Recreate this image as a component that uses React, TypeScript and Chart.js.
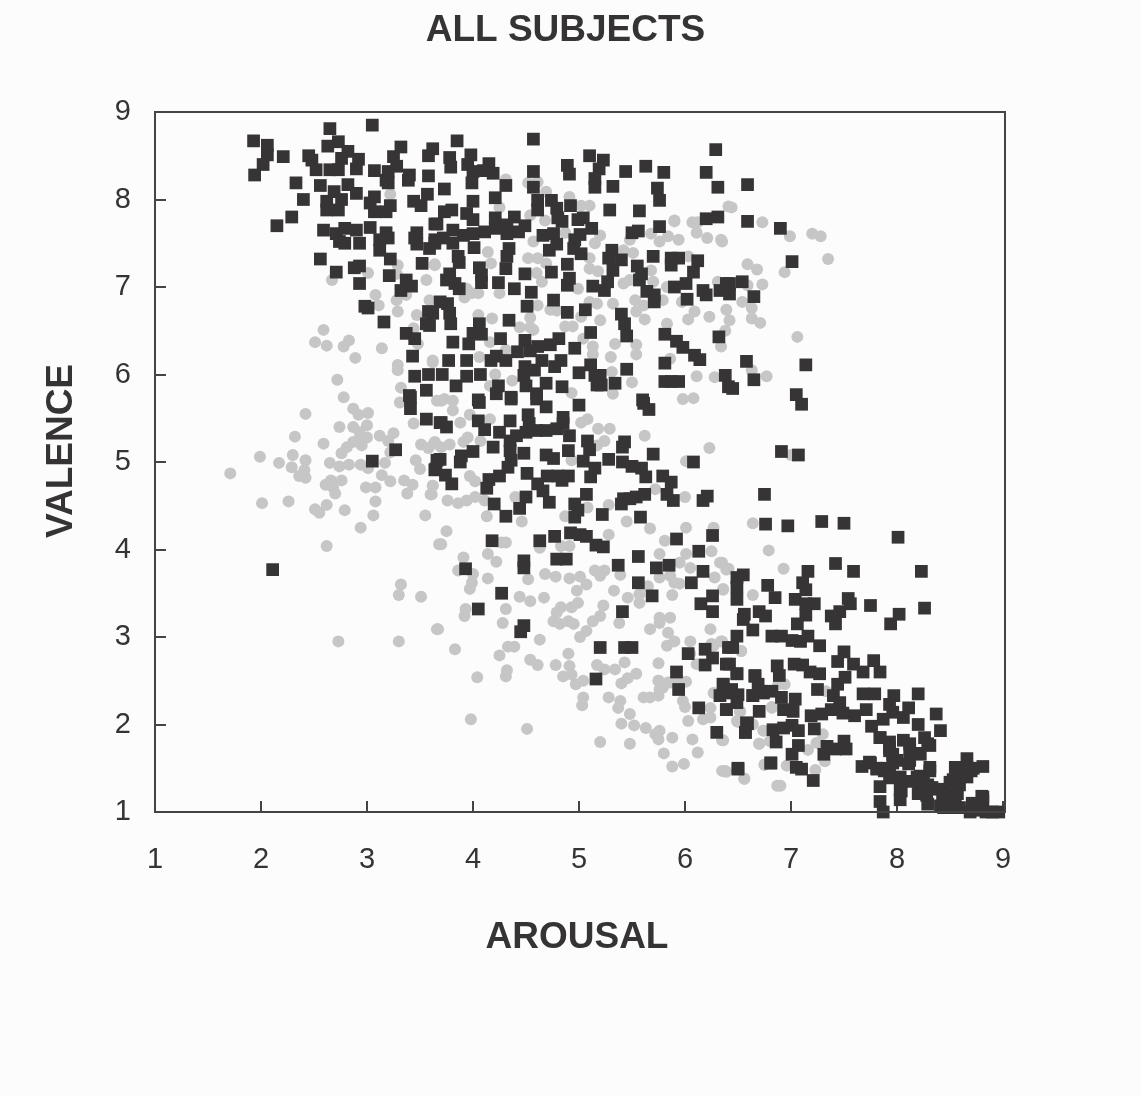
import React, { useEffect, useRef } from "react";
import { Chart, registerables } from "chart.js";

Chart.register(...registerables);

const titleText = "ALL SUBJECTS";
const xTitle = "AROUSAL";
const yTitle = "VALENCE";
const tickValues = [1, 2, 3, 4, 5, 6, 7, 8, 9];

const darkUpper: number[][] = [
[1.93,8.67],[2.06,8.62],[2.06,8.51],[2.02,8.40],[1.94,8.28],[2.21,8.49],[2.45,8.50],[2.48,8.45],[2.52,8.34],[2.65,8.81],[3.05,8.85],[2.73,8.66],[2.63,8.61],[2.82,8.55],[2.76,8.47],[2.92,8.46],[2.90,8.35],[2.65,8.34],[2.73,8.34],[3.07,8.33],[3.32,8.60],[3.25,8.49],[3.28,8.38],[3.20,8.32],[3.18,8.22],[3.20,8.19],[3.40,8.28],[3.39,8.22],[3.58,8.27],[3.62,8.58],[3.58,8.50],[2.33,8.19],[2.56,8.16],[2.82,8.17],[2.90,8.07],[2.69,8.09],[3.07,8.03],[3.57,8.06],[3.44,7.98],[3.51,7.93],[2.40,8.00],[2.62,7.98],[2.76,8.00],[2.62,7.88],[2.73,7.88],[3.03,7.96],[3.07,7.86],[3.18,7.86],[3.22,7.93],[2.29,7.80],[2.15,7.70],[2.59,7.65],[2.71,7.61],[2.79,7.67],[2.90,7.65],[3.03,7.68],[3.18,7.62],[3.20,7.56],[3.12,7.54],[3.12,7.42],[2.74,7.52],[2.79,7.50],[2.93,7.50],[3.47,7.62],[3.45,7.56],[3.47,7.49],[3.64,7.72],[3.64,7.54],[3.59,7.44],[2.56,7.32],[3.22,7.32],[3.52,7.27],[2.93,7.24],[2.88,7.22],[2.71,7.17],[3.21,7.13],[3.37,7.08],[3.42,7.01],[3.32,6.96],[2.93,7.04],[2.98,6.78],[3.01,6.76],[3.16,6.60],[3.58,6.72],[3.56,6.58],[3.37,6.47],[3.45,6.41],[3.43,6.21],[3.45,5.98],[3.58,6.00],[3.56,5.82],[3.40,5.76],
[3.85,8.67],[4.57,8.69],[6.29,8.57],[3.78,8.48],[3.79,8.37],[3.98,8.51],[3.95,8.40],[4.15,8.41],[4.19,8.30],[4.10,8.33],[4.00,8.32],[3.99,8.19],[4.31,8.16],[3.73,8.12],[4.21,8.02],[4.00,7.98],[4.57,8.32],[4.57,8.14],[4.61,7.99],[4.61,7.88],[4.74,7.99],[4.79,7.90],[4.92,7.93],[4.80,7.79],[4.89,8.39],[4.91,8.29],[5.10,8.50],[5.23,8.45],[5.19,8.35],[5.15,8.24],[5.15,8.14],[5.32,8.15],[5.44,8.32],[5.63,8.38],[5.80,8.31],[6.20,8.31],[6.31,8.14],[5.74,8.13],[5.76,7.99],[5.29,7.88],[5.57,7.87],[6.20,7.78],[6.31,7.80],[5.76,7.69],[5.50,7.62],[5.56,7.64],[5.12,7.67],[5.04,7.79],[4.99,7.77],[5.01,7.60],[4.96,7.54],[4.95,7.44],[5.02,7.38],[5.31,7.42],[5.28,7.33],[5.40,7.31],[5.32,7.19],[5.70,7.35],[5.87,7.33],[5.94,7.33],[5.87,7.25],[6.12,7.30],[6.08,7.17],[6.01,7.04],[5.90,7.00],[6.02,6.86],[6.17,6.96],[6.20,6.91],[6.39,7.04],[5.55,7.24],[5.59,7.15],[5.57,7.08],[5.64,6.95],[5.71,6.91],[5.71,6.83],[5.27,7.06],[5.24,6.96],[5.13,7.01],[4.89,7.26],[4.74,7.17],[4.49,7.15],[4.24,7.05],[4.39,6.98],[4.55,6.94],[4.91,7.10],[4.89,7.02],[4.76,6.85],[4.51,6.78],[4.89,6.71],[5.06,6.74],[5.40,6.69],[5.43,6.58],[5.45,6.44],[4.34,6.62],[4.06,6.58],[4.00,6.47],[4.08,6.46],[3.96,6.35],[3.81,6.37],[4.26,6.41],[4.49,6.39],[4.81,6.41],[4.73,6.34],[4.61,6.32],[4.54,6.27],[4.42,6.26],[4.96,6.30],[5.11,6.48],[5.81,6.46],[5.92,6.38],[5.98,6.31],[6.09,6.22],[6.14,6.17],[6.32,6.43],[5.81,6.13],[5.45,6.06],[5.81,5.92],[5.87,5.92],[5.94,5.92],[6.38,5.99],[6.41,5.86],[3.77,6.16],[3.94,6.16],[4.17,6.16],[4.22,6.21],[4.31,6.16],[4.65,6.16],[4.83,6.16],[4.77,6.09],[4.49,6.09],[4.58,6.05],[4.48,5.99],[4.50,5.87],[4.69,5.90],[4.84,5.86],[4.60,5.78],[5.00,6.02],[5.11,6.11],[5.15,5.99],[5.20,5.99],[5.17,5.88],[5.21,5.88],[5.34,5.90],[3.71,6.00],[3.94,5.98],[4.07,6.00],[3.84,5.87],[4.24,5.87],[4.22,5.78],[4.36,5.74],[4.05,5.71],[5.60,5.71],
[3.73,7.86],[3.80,7.88],[3.94,7.84],[4.00,7.77],[3.66,7.72],[3.81,7.65],[4.21,7.79],[4.21,7.67],[4.39,7.80],[4.32,7.71],[4.49,7.70],[4.43,7.63],[4.32,7.61],[4.11,7.63],[4.00,7.61],[3.91,7.59],[3.81,7.50],[3.72,7.56],[3.64,7.50],[4.01,7.45],[3.86,7.35],[3.87,7.28],[4.34,7.44],[4.32,7.35],[4.31,7.21],[4.06,7.22],[4.08,7.14],[4.08,7.05],[3.78,7.15],[3.75,7.08],[3.83,7.04],[3.87,6.98],[4.66,7.59],[4.76,7.61],[4.72,7.42],[4.79,7.49],[4.84,7.75],[3.69,6.83],[3.76,6.81],[3.78,6.70],[3.79,6.58],[3.62,6.70],[3.59,6.56],
[6.59,8.17],[6.59,7.75],[6.90,7.67],[7.01,7.29],[6.54,7.06],[6.42,7.04],[6.33,6.96],[6.42,6.92],[6.65,6.89],[7.14,6.11],[6.58,6.15],[6.45,5.84],[6.65,5.94],[7.05,5.77],[7.10,5.66],[6.91,5.12],[7.07,5.08],[6.75,4.63]
];

const darkMiddle: number[][] = [
[3.41,5.74],[3.41,5.61],[3.56,5.49],[3.69,5.45],[3.27,5.14],[3.05,5.01],[3.66,5.02],[3.64,4.91],[2.11,3.77],
[4.06,5.68],[4.36,5.72],[4.60,5.72],[4.69,5.63],[5.00,5.65],[5.61,5.67],[5.66,5.60],[3.70,5.45],[3.75,5.40],[4.05,5.47],[4.11,5.37],[4.35,5.47],[4.52,5.54],[4.53,5.44],[4.85,5.51],[4.25,5.34],[4.41,5.30],[4.50,5.34],[4.60,5.36],[4.69,5.36],[4.79,5.38],[4.85,5.44],[4.91,5.30],[4.35,5.24],[4.19,5.17],[4.00,5.12],[3.89,5.07],[3.88,5.00],[3.69,5.03],[3.65,4.92],[3.74,4.85],[3.80,4.75],[4.35,5.13],[4.48,5.10],[4.36,5.02],[4.33,4.94],[4.25,4.84],[4.15,4.80],[4.13,4.70],[4.51,4.87],[4.69,5.08],[4.76,5.04],[4.90,5.13],[5.08,5.24],[5.10,5.14],[5.04,5.01],[5.43,5.23],[5.41,5.17],[5.28,5.03],[5.41,5.00],[5.50,4.95],[5.59,4.93],[5.63,4.83],[5.70,5.09],[5.15,4.93],[5.11,4.83],[6.08,5.00],[5.79,4.84],[5.87,4.77],[5.83,4.63],[5.89,4.56],[6.21,4.61],[6.17,4.56],[4.70,4.84],[4.80,4.84],[4.90,4.84],[4.84,4.79],[4.61,4.75],[4.66,4.67],[4.72,4.54],[4.50,4.60],[4.44,4.47],[4.20,4.52],[4.31,4.38],[5.07,4.63],[4.96,4.52],[4.99,4.45],[4.96,4.37],[5.22,4.40],[5.58,4.37],[5.42,4.58],[5.48,4.58],[5.54,4.60],[5.62,4.63],[5.40,4.52],[4.92,4.19],[5.01,4.17],[5.07,4.15],[5.16,4.05],[5.23,4.03],[4.77,4.15],[4.63,4.10],[4.18,4.10],[4.79,3.89],[4.88,3.89],[4.48,3.87],[4.48,3.79],[3.93,3.78],[5.37,3.82],[5.56,3.92],[5.73,3.79],[5.85,3.82],[5.92,4.12],[6.26,4.16],[6.13,3.98],[6.17,3.75],[6.06,3.62],[5.56,3.62],[5.69,3.47],[4.27,3.50],[6.26,3.47],[6.15,3.38],[6.26,3.29],[4.05,3.32],[5.41,3.29],[4.48,3.13],[4.45,3.06],[5.20,2.88],[5.43,2.88],[5.50,2.88],[6.03,2.81],[6.19,2.86],[6.26,2.76],[6.19,2.68],[5.16,2.52],[5.92,2.60],[6.39,2.69],[6.36,2.46],[5.94,2.40],[6.41,2.88]
];

const darkLower: number[][] = [
[6.13,2.19],[6.30,1.91],[6.81,1.56],[6.50,1.49],[6.39,2.17],[6.42,2.36],[6.33,2.33],[6.57,1.91],[6.59,2.01],[6.64,2.33],[6.71,2.38],[6.66,2.55],[6.49,2.58],
[6.76,4.29],[6.97,4.27],[7.29,4.32],[7.50,4.30],[8.01,4.14],[7.42,3.84],[7.59,3.75],[8.23,3.75],[7.16,3.75],[6.55,3.71],[6.49,3.68],[6.49,3.57],[6.49,3.43],[6.78,3.59],[6.85,3.45],[7.11,3.62],[7.14,3.54],[7.04,3.43],[7.14,3.38],[7.22,3.38],[7.14,3.25],[7.06,3.15],[7.54,3.44],[7.56,3.38],[7.75,3.36],[8.26,3.33],[8.02,3.26],[7.94,3.15],[7.46,3.29],[7.38,3.24],[7.42,3.15],[6.70,3.29],[6.76,3.24],[6.56,3.26],[6.55,3.20],[6.64,3.08],[6.82,3.01],[6.91,3.01],[7.01,2.96],[7.09,2.95],[7.16,3.01],[7.27,2.90],[6.49,3.01],[6.45,2.88],[7.50,2.83],[7.44,2.72],[7.59,2.69],[7.68,2.60],[7.78,2.73],[7.84,2.60],[7.51,2.54],[7.44,2.46],[7.40,2.33],[7.46,2.25],[6.87,2.67],[6.89,2.56],[7.03,2.69],[7.11,2.68],[7.18,2.60],[7.27,2.58],[7.25,2.40],[6.42,2.69],[6.49,2.58],[6.66,2.56],[6.69,2.46],[6.36,2.46],[6.44,2.40],[6.50,2.34],[6.49,2.25],[6.39,2.17],[6.64,2.33],[6.74,2.36],[6.82,2.38],[6.91,2.31],[7.04,2.29],[6.93,2.17],[7.02,2.15],[6.70,2.15],[7.68,2.35],[7.79,2.35],[7.97,2.33],[8.20,2.35],[7.93,2.23],[8.11,2.19],[7.19,2.10],[7.29,2.12],[7.38,2.17],[7.49,2.13],[7.60,2.10],[7.71,2.17],[7.76,1.98],[7.87,2.06],[7.96,2.14],[8.06,2.08],[8.37,2.12],[8.20,2.00],[8.41,1.93],[7.22,1.95],[6.58,2.02],[6.57,1.91],[6.83,1.94],[6.93,1.96],[7.01,1.99],[7.07,1.93],[6.86,1.80],[7.07,1.76],[7.01,1.66],[7.34,1.75],[7.31,1.66],[7.42,1.72],[7.50,1.81],[7.52,1.72],[7.84,1.85],[8.06,1.82],[7.93,1.73],[7.96,1.66],[8.26,1.85],[8.31,1.76],[8.12,1.72],[8.22,1.66],[8.11,1.55],[7.96,1.56],[7.67,1.52],[7.74,1.57],[7.81,1.49],[7.88,1.47],[7.94,1.39],[8.66,1.61],[8.81,1.52],[8.58,1.49],[8.70,1.47],[8.31,1.47],[8.22,1.41],[8.53,1.37],[8.59,1.31],[8.04,1.35],[8.15,1.35],[8.29,1.31],[8.40,1.26],[7.84,1.29],[8.04,1.24],[8.22,1.22],[8.29,1.09],[8.03,1.14],[7.84,1.12],[7.87,1.00],[8.47,1.16],[8.55,1.16],[8.44,1.05],[8.56,1.05],[8.80,1.18],[8.72,1.09],[8.81,1.12],[8.69,1.00],[8.84,1.00],[8.96,1.00],[7.05,1.51],[7.10,1.49],[7.21,1.36],[6.81,1.56],[6.50,1.50],
[7.93,1.70],[8.00,1.59],[8.12,1.78],[8.12,1.59],[8.19,1.67],[8.29,1.78],[8.31,1.51],[8.03,1.40],[8.03,1.25],[8.19,1.40],[8.25,1.33],[8.33,1.28],[8.28,1.19],[8.20,1.21],[8.43,1.21],[8.50,1.34],[8.57,1.40],[8.55,1.51],[8.66,1.51],[8.66,1.40],[8.72,1.50],[8.50,1.07],[8.59,1.05],[8.41,1.07],[8.46,1.20],[8.57,1.21],[8.71,1.10],[8.75,1.02],[8.81,1.17],[7.75,1.56],[7.81,1.50],[7.89,1.50],[7.93,1.42],[7.84,1.85],[7.93,1.80],[8.90,1.00]
];

const lightUpper: number[][] = [
[3.22,8.06],[3.29,7.25],[3.28,7.15],[3.64,7.25],[3.01,7.16],[2.67,7.08],[3.56,7.08],[3.08,6.91],[3.28,6.85],[3.37,6.91],[3.11,6.79],[3.29,6.72],[3.47,6.68],[3.59,6.85],[2.59,6.51],[2.51,6.37],[2.62,6.33],[2.78,6.32],[2.83,6.39],[3.14,6.30],[2.89,6.19],[3.44,6.53],[3.48,6.35],[3.29,6.11],[3.29,6.05],[3.62,6.16],[2.72,5.94],[3.32,5.85],[2.78,5.74],
[4.31,8.23],[4.52,8.19],[4.61,8.20],[4.69,8.09],[4.91,8.03],[5.02,7.93],[5.10,7.93],[4.25,7.91],[4.54,7.82],[4.68,7.76],[5.90,7.76],[6.12,7.74],[6.11,7.62],[6.41,7.92],[4.87,7.62],[5.20,7.59],[5.15,7.50],[5.48,7.54],[5.68,7.61],[5.76,7.52],[5.84,7.58],[5.94,7.54],[6.34,7.54],[4.57,7.52],[4.14,7.40],[3.64,7.26],[4.17,7.27],[4.52,7.33],[4.61,7.33],[5.42,7.42],[5.51,7.39],[5.10,7.33],[5.10,7.21],[5.18,7.18],[4.60,7.16],[4.65,7.06],[4.69,7.27],[5.42,7.04],[5.48,7.08],[5.68,7.19],[5.70,7.06],[5.83,7.00],[6.03,7.35],[6.31,7.06],[3.94,6.98],[3.92,6.88],[4.05,6.93],[3.99,6.93],[4.25,6.93],[4.99,6.98],[5.10,6.83],[5.17,6.81],[5.32,6.81],[5.53,6.85],[5.61,6.79],[5.79,6.85],[5.97,6.83],[5.54,6.72],[5.62,6.63],[4.61,6.79],[4.73,6.74],[4.79,6.73],[4.05,6.68],[4.18,6.64],[4.54,6.65],[5.20,6.62],[5.02,6.66],[4.87,6.55],[4.94,6.55],[4.44,6.54],[4.54,6.54],[4.57,6.51],[5.83,6.58],[6.09,6.72],[6.03,6.63],[6.23,6.66],[6.39,6.74],[5.04,6.41],[5.13,6.32],[4.16,6.37],[5.34,6.35],[5.54,6.34],[5.13,6.23],[5.54,6.23],[5.30,6.20],[4.06,6.20],[3.62,6.14],[4.31,6.28],[6.34,6.32],[6.11,5.98],[6.28,5.97],[5.31,6.03],[4.21,6.00],[4.37,5.93],[5.50,5.91],[4.16,5.87],[5.32,5.78],[4.93,5.79],[3.73,5.72],[5.98,5.72],[6.08,5.73],[5.86,6.18],
[6.44,7.91],[6.73,7.74],[6.99,7.58],[7.20,7.61],[7.28,7.58],[7.35,7.32],[6.21,7.56],[6.35,7.52],[6.07,7.74],[5.90,7.75],[6.94,7.17],[6.68,7.20],[6.59,7.26],[6.73,7.03],[6.59,7.02],[6.54,6.83],[6.63,6.76],[6.71,6.59],[6.63,6.64],[7.06,6.43],[6.77,5.98],[6.42,6.62],[6.38,6.50],[6.63,6.05],[7.00,5.08]
];

const lightMiddle: number[][] = [
[2.42,5.55],[2.87,5.61],[2.92,5.54],[3.01,5.56],[2.74,5.40],[2.87,5.40],[3.00,5.42],[2.93,5.34],[3.00,5.28],[2.93,5.26],[3.12,5.30],[3.25,5.33],[2.95,5.19],[2.87,5.23],[2.81,5.17],[2.76,5.10],[2.32,5.29],[2.59,5.21],[3.20,5.24],[3.22,5.11],[3.44,5.44],[3.31,5.68],[3.66,5.70],[3.51,5.20],[3.63,5.21],[3.58,5.16],[2.30,5.08],[1.99,5.06],[2.17,4.99],[2.42,5.02],[2.29,4.94],[2.41,4.91],[2.36,4.84],[2.42,4.82],[1.71,4.87],[2.65,4.99],[2.74,4.95],[2.83,4.97],[2.94,4.97],[3.01,4.93],[3.17,4.99],[3.46,5.02],[3.50,4.92],[3.14,4.85],[3.22,4.78],[3.35,4.79],[3.43,4.74],[3.38,4.64],[3.62,4.73],[3.60,4.63],[2.76,4.79],[2.66,4.79],[2.61,4.74],[2.68,4.71],[2.70,4.64],[2.99,4.71],[3.08,4.71],[3.08,4.55],[2.26,4.55],[2.01,4.53],[2.62,4.51],[2.51,4.46],[2.55,4.42],[2.79,4.45],[3.06,4.39],[2.94,4.25],[3.55,4.39],[2.62,4.04],[3.68,4.06],[3.32,3.60],[3.30,3.48],[3.51,3.46],[3.66,3.09],[2.73,2.95],[3.30,2.95],
[3.70,5.70],[3.81,5.70],[3.81,5.59],[3.88,5.45],[3.97,5.54],[4.16,5.49],[5.02,5.45],[5.08,5.49],[5.18,5.38],[5.29,5.38],[5.62,5.30],[6.23,5.16],[5.24,5.24],[5.17,5.19],[3.95,5.28],[3.91,5.23],[4.07,5.24],[3.64,5.23],[3.78,5.20],[3.70,5.17],[6.01,5.01],[4.93,5.02],[3.97,4.84],[4.02,4.78],[3.62,4.73],[3.61,4.63],[3.76,4.56],[3.86,4.53],[3.94,4.56],[4.02,4.60],[4.11,4.56],[4.40,4.60],[4.13,4.38],[4.46,4.32],[4.87,4.38],[5.08,4.48],[5.28,4.51],[5.45,4.32],[5.67,4.24],[6.00,4.60],[5.72,4.69],[3.75,4.21],[3.70,4.06],[3.91,3.91],[4.14,3.95],[4.22,3.86],[5.28,4.17],[4.31,4.08],[4.27,4.08],[4.63,4.02],[4.91,4.04],[4.83,4.04],[5.81,4.10],[6.01,4.25],[6.27,4.25],[6.25,3.98],[5.76,3.95],[6.01,3.95],[5.95,3.85],[6.05,3.79],[6.33,3.85],[6.39,3.77],[6.28,3.68],[5.86,3.70],[5.76,3.68],[5.90,3.62],[5.95,3.61],[6.36,3.54],[5.65,3.58],[5.46,3.45],[5.57,3.39],[5.57,3.49],[5.88,3.48],[3.86,3.76],[4.00,3.72],[3.99,3.62],[3.97,3.55],[4.14,3.67],[4.52,3.66],[4.68,3.72],[4.78,3.69],[4.91,3.67],[5.01,3.69],[5.07,3.60],[4.98,3.53],[5.15,3.76],[5.24,3.76],[5.20,3.70],[5.39,3.71],[5.33,3.53],[4.67,3.45],[4.44,3.46],[4.54,3.41],[4.31,3.32],[3.93,3.32],[3.92,3.24],[4.28,3.16],[4.99,3.39],[4.93,3.34],[4.83,3.34],[4.79,3.28],[5.23,3.36],[5.20,3.24],[5.13,3.18],[4.90,3.18],[4.76,3.18],[4.95,3.15],[4.82,3.15],[5.38,3.16],[5.07,3.07],[5.01,3.00],[5.67,3.09],[5.76,3.22],[5.86,3.22],[5.76,3.16],[5.84,3.05],[5.90,2.95],[5.83,2.90],[6.24,3.09],[6.05,2.95],[6.27,2.90],[6.34,2.95],[3.67,3.09],[4.63,2.97],[3.83,2.86],[4.33,2.89],[4.39,2.89],[4.25,2.79],[4.90,2.81],[4.54,2.74],[4.61,2.68],[4.78,2.68],[4.91,2.67],[5.17,2.68],[5.24,2.63],[5.34,2.63],[5.43,2.71],[5.75,2.70],[4.32,2.62],[4.31,2.55],[4.04,2.54],[4.85,2.55],[4.93,2.57],[5.54,2.58],[5.46,2.53],[5.40,2.47],[4.97,2.46],[5.04,2.50],[5.75,2.50],[5.79,2.42],[5.86,2.48],[6.11,2.69],[6.01,2.49]
];

const lightLower: number[][] = [
[5.04,2.31],[5.03,2.22],[5.28,2.31],[5.39,2.27],[5.37,2.19],[5.48,2.12],[5.40,2.01],[5.52,1.99],[5.63,1.96],[5.72,1.89],[5.76,1.93],[5.75,1.83],[5.88,1.85],[6.07,1.83],[6.12,1.68],[5.80,1.67],[5.88,1.52],[5.99,1.55],[5.20,1.80],[5.48,1.78],[6.03,2.04],[6.00,2.20],[6.17,2.06],[6.24,2.08],[6.24,2.19],[6.35,1.47],[6.39,1.46],[6.56,1.38],[6.35,1.82],[6.70,1.78],[6.52,2.15],[6.50,2.03],[6.74,1.93],[6.82,2.20],[6.87,1.30],[6.75,1.54],[5.61,2.31],[5.67,2.31],[5.75,2.33],[5.75,2.50],[5.84,2.48],[5.95,2.50],[5.76,2.40],[5.98,2.27],[6.27,2.36],[6.05,2.81],[6.25,2.92],[6.53,2.84],
[6.64,4.30],[6.79,3.99],[6.93,3.78],[6.35,3.85],[6.41,3.78],[6.36,3.55],[6.64,3.48],[6.53,2.84],[6.35,2.95],[6.52,2.15],[6.49,2.04],[6.64,2.00],[6.74,1.93],[6.70,1.78],[6.80,1.81],[6.82,2.19],[6.94,2.46],[6.88,2.46],[7.33,2.38],[7.30,1.89],[7.24,1.79],[7.16,1.71],[6.96,1.53],[6.75,1.54],[6.38,1.47],[6.56,1.38],[6.90,1.30],[7.23,1.48],[7.32,1.58],[6.36,1.82],
[3.98,2.06],[4.51,1.95]
];

const darkPoints = [...darkUpper, ...darkMiddle, ...darkLower];
const lightPoints = [...lightUpper, ...lightMiddle, ...lightLower];
const toXY = (p: number[]) => ({ x: p[0], y: p[1] });

const ink = "#353334";

const axisTitles = {
  id: "axisTitles",
  afterDraw(chart: any) {
    const { ctx, chartArea } = chart;
    ctx.save();
    ctx.strokeStyle = "#444";
    ctx.lineWidth = 2;
    ctx.strokeRect(chartArea.left, chartArea.top, chartArea.right - chartArea.left, chartArea.bottom - chartArea.top);
    ctx.fillStyle = ink;
    ctx.font = 'bold 37px "Liberation Sans"';
    ctx.textAlign = "center";
    ctx.textBaseline = "middle";
    ctx.fillText(xTitle, 577, 938);
    ctx.translate(62, 451);
    ctx.rotate(-Math.PI / 2);
    ctx.fillText(yTitle, 0, 0);
    ctx.restore();
  },
};

export default function App() {
  const ref = useRef<HTMLCanvasElement>(null);
  useEffect(() => {
    document.body.style.margin = "0";
    document.body.style.background = "#fcfcfc";
    const setTicks = (scale: any) => {
      scale.ticks = tickValues.map((value) => ({ value }));
    };
    const chart = new Chart(ref.current as HTMLCanvasElement, {
      type: "scatter",
      data: {
        datasets: [
          {
            label: "light",
            data: lightPoints.map(toXY),
            pointStyle: "circle",
            pointRadius: 6,
            pointBorderWidth: 0,
            backgroundColor: "#c6c6c6",
            clip: false,
            order: 2,
          },
          {
            label: "dark",
            data: darkPoints.map(toXY),
            pointStyle: "rect",
            pointRadius: 9,
            pointBorderWidth: 0,
            backgroundColor: "#373435",
            clip: false,
            order: 1,
          },
        ],
      },
      options: {
        responsive: false,
        animation: false,
        events: [],
        layout: { padding: 0 },
        plugins: {
          legend: { display: false },
          tooltip: { enabled: false },
          title: {
            display: true,
            text: titleText,
            color: ink,
            font: { family: "Liberation Sans", size: 37, weight: "bold", lineHeight: 1.2 },
            padding: { top: 9, bottom: 58.6 },
          },
        },
        scales: {
          x: {
            type: "linear",
            min: 1,
            max: 9.019,
            afterBuildTicks: setTicks,
            afterFit: (s: any) => { s.height = 284; },
            grid: { drawOnChartArea: false, color: "#444", lineWidth: 2, tickLength: -11 },
            border: { display: false },
            ticks: {
              autoSkip: false,
              maxRotation: 0,
              color: ink,
              padding: 42,
              font: { family: "Liberation Sans", size: 29 },
            },
          },
          y: {
            type: "linear",
            min: 1,
            max: 9,
            afterBuildTicks: setTicks,
            afterFit: (s: any) => { s.width = 155; },
            grid: { drawOnChartArea: false, color: "#444", lineWidth: 2, tickLength: -11 },
            border: { display: false },
            ticks: {
              autoSkip: false,
              color: ink,
              padding: 35,
              font: { family: "Liberation Sans", size: 29 },
            },
          },
          spacer: {
            axis: "y",
            position: "right",
            afterFit: (s: any) => { s.width = 126; },
            grid: { display: false },
            border: { display: false },
            ticks: { display: false },
          },
        },
      },
      plugins: [axisTitles],
    } as any);
    return () => chart.destroy();
  }, []);
  return <canvas ref={ref} width={1131} height={1096} style={{ display: "block" }} />;
}
